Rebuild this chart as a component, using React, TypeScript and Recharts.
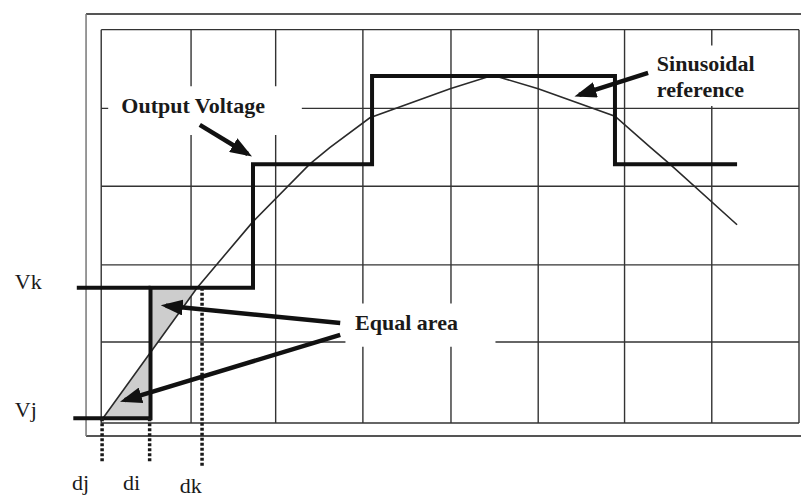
import React from 'react';
import {
  ComposedChart, Line, Area, XAxis, YAxis, ReferenceLine, ReferenceArea, ReferenceDot,
} from 'recharts';

// Grid positions in grid units (read off the scan; not perfectly even)
const gridX = [0, 1.03, 2.0, 3.0, 4.01, 5.01, 6.0, 7.0, 8.0];
const gridY = [0, 1.03, 2.01, 3.01, 4.0, 5.0];

// Staircase output voltage
const outputVoltage = [
  { x: -0.32, y: 0.06 },
  { x: 0.565, y: 0.06 },
  { x: 0.565, y: 1.72 },
  { x: 1.74, y: 1.72 },
  { x: 1.74, y: 3.29 },
  { x: 3.105, y: 3.29 },
  { x: 3.105, y: 4.41 },
  { x: 5.89, y: 4.41 },
  { x: 5.89, y: 3.29 },
  { x: 7.29, y: 3.29 },
];
// Vk level reaches further left than the step
const vkLevel = [
  { x: -0.28, y: 1.72 },
  { x: 0.565, y: 1.72 },
];

// Sinusoidal reference
const sineRef = [
  { x: 0.02, y: 0.06 },
  { x: 0.56, y: 0.89 },
  { x: 1.1, y: 1.72 },
  { x: 1.74, y: 2.56 },
  { x: 2.39, y: 3.29 },
  { x: 2.62, y: 3.5 },
  { x: 3.08, y: 3.88 },
  { x: 4.0, y: 4.25 },
  { x: 4.49, y: 4.42 },
  { x: 5.01, y: 4.25 },
  { x: 5.89, y: 3.9 },
  { x: 6.29, y: 3.51 },
  { x: 6.52, y: 3.29 },
  { x: 7.29, y: 2.52 },
];

// The two "equal area" patches
const areaUpper = [
  { x: 0.565, band: [0.89, 1.72] },
  { x: 1.1, band: [1.72, 1.72] },
];
const areaLower = [
  { x: 0.02, band: [0.06, 0.06] },
  { x: 0.565, band: [0.06, 0.89] },
];

// Dotted switching-instant markers
const djMark = [{ x: 0.01, y: 0.06 }, { x: 0.01, y: -0.5 }];
const diMark = [{ x: 0.555, y: 0.06 }, { x: 0.555, y: -0.5 }];
const dkMark = [{ x: 1.156, y: 1.72 }, { x: 1.156, y: -0.56 }];

// Arrows: tail -> tip
const arrows = [
  [{ x: 1.13, y: 3.79 }, { x: 1.68, y: 3.42 }],
  [{ x: 6.27, y: 4.45 }, { x: 5.48, y: 4.17 }],
  [{ x: 2.74, y: 1.27 }, { x: 0.74, y: 1.49 }],
  [{ x: 2.74, y: 1.12 }, { x: 0.27, y: 0.29 }],
];

const annotations = [
  { text: 'Output Voltage', x: 0.23, y: 3.94, bold: true },
  { text: 'Sinusoidal', x: 6.37, y: 4.47, bold: true },
  { text: 'reference', x: 6.37, y: 4.15, bold: true },
  { text: 'Equal area', x: 2.91, y: 1.18, bold: true },
  { text: 'Vk', x: -0.99, y: 1.7, bold: false },
  { text: 'Vj', x: -0.99, y: 0.08, bold: false },
  { text: 'dj', x: -0.335, y: -0.85, bold: false },
  { text: 'di', x: 0.25, y: -0.85, bold: false },
  { text: 'dk', x: 0.9, y: -0.885, bold: false },
];

// white patches behind labels (grid is broken there in the scan)
const labelBoxes = [
  { x1: 0.08, x2: 2.3, y1: 3.66, y2: 4.28 },
  { x1: 6.29, x2: 7.97, y1: 4.03, y2: 4.8 },
  { x1: 2.8, x2: 4.52, y1: 0.97, y2: 1.52 },
];

const frame = { left: -0.174, right: 8.05, top: 5.2, bottom: -0.165 };

const FONT = 'Liberation Serif, Times New Roman, serif';

export default function App() {
  return (
    <div style={{ position: 'fixed', left: 0, top: 0, width: 801, height: 499, background: '#fff' }}>
      <svg width={0} height={0} style={{ position: 'absolute' }}>
        <defs>
          <marker id="arrowHead" markerUnits="userSpaceOnUse" markerWidth={22} markerHeight={16}
            refX={17} refY={8} orient="auto">
            <path d="M0,0 L22,8 L0,16 Z" fill="#111" />
          </marker>
        </defs>
      </svg>
      <ComposedChart width={801} height={499} margin={{ top: 10, right: 2, bottom: 17, left: 14 }}>
        <XAxis type="number" dataKey="x" domain={[-1, 8]} hide allowDataOverflow />
        <YAxis type="number" domain={[-0.75, 5.25]} hide allowDataOverflow />

        {/* outer frame */}
        <ReferenceLine segment={[{ x: frame.left, y: frame.top }, { x: frame.right, y: frame.top }]}
          stroke="#555" strokeWidth={2} ifOverflow="visible" zIndex={10} />
        <ReferenceLine segment={[{ x: frame.left, y: frame.bottom }, { x: frame.right, y: frame.bottom }]}
          stroke="#555" strokeWidth={2} ifOverflow="visible" zIndex={10} />
        <ReferenceLine segment={[{ x: frame.left, y: frame.bottom }, { x: frame.left, y: frame.top }]}
          stroke="#777" strokeWidth={1.5} ifOverflow="visible" zIndex={10} />

        {/* inner grid */}
        {gridX.map((gx) => (
          <ReferenceLine key={`gx-${gx}`} segment={[{ x: gx, y: 0 }, { x: gx, y: 5 }]}
            stroke="#333" strokeWidth={1.4} ifOverflow="visible" zIndex={10} />
        ))}
        {gridY.map((gy) => (
          <ReferenceLine key={`gy-${gy}`} segment={[{ x: 0, y: gy }, { x: 8, y: gy }]}
            stroke="#333" strokeWidth={1.4} ifOverflow="visible" zIndex={10} />
        ))}

        {labelBoxes.map((b, i) => (
          <ReferenceArea key={`box-${i}`} x1={b.x1} x2={b.x2} y1={b.y1} y2={b.y2}
            fill="#fff" fillOpacity={1} stroke="none" ifOverflow="visible" zIndex={20} />
        ))}

        <Area data={areaUpper} dataKey="band" type="linear" stroke="none" fill="#cdcdcd"
          fillOpacity={1} isAnimationActive={false} zIndex={30} />
        <Area data={areaLower} dataKey="band" type="linear" stroke="none" fill="#cdcdcd"
          fillOpacity={1} isAnimationActive={false} zIndex={30} />

        <Line data={sineRef} dataKey="y" type="linear" stroke="#2a2a2a" strokeWidth={1.6}
          dot={false} isAnimationActive={false} zIndex={40} />

        <Line data={outputVoltage} dataKey="y" type="linear" stroke="#111" strokeWidth={4}
          dot={false} isAnimationActive={false} zIndex={50} />
        <Line data={vkLevel} dataKey="y" type="linear" stroke="#111" strokeWidth={4}
          dot={false} isAnimationActive={false} zIndex={50} />

        {[djMark, diMark, dkMark].map((m, i) => (
          <Line key={`mark-${i}`} data={m} dataKey="y" type="linear" stroke="#1a1a1a" strokeWidth={3.5}
            strokeDasharray="3 2" dot={false} isAnimationActive={false} zIndex={55} />
        ))}

        {arrows.map((a, i) => (
          <Line key={`arrow-${i}`} data={a} dataKey="y" type="linear" stroke="#111" strokeWidth={4.5}
            dot={false} markerEnd="url(#arrowHead)" isAnimationActive={false} zIndex={60} />
        ))}

        {annotations.map((t) => (
          <ReferenceDot key={t.text} x={t.x} y={t.y} r={1} ifOverflow="visible" zIndex={70}
            shape={(p: any) => (
              <text x={p.cx} y={p.cy} fontSize={22} fill="#1a1a1a"
                style={{ fontFamily: FONT, fontWeight: t.bold ? 700 : 400 }}>{t.text}</text>
            )} />
        ))}
      </ComposedChart>
    </div>
  );
}
